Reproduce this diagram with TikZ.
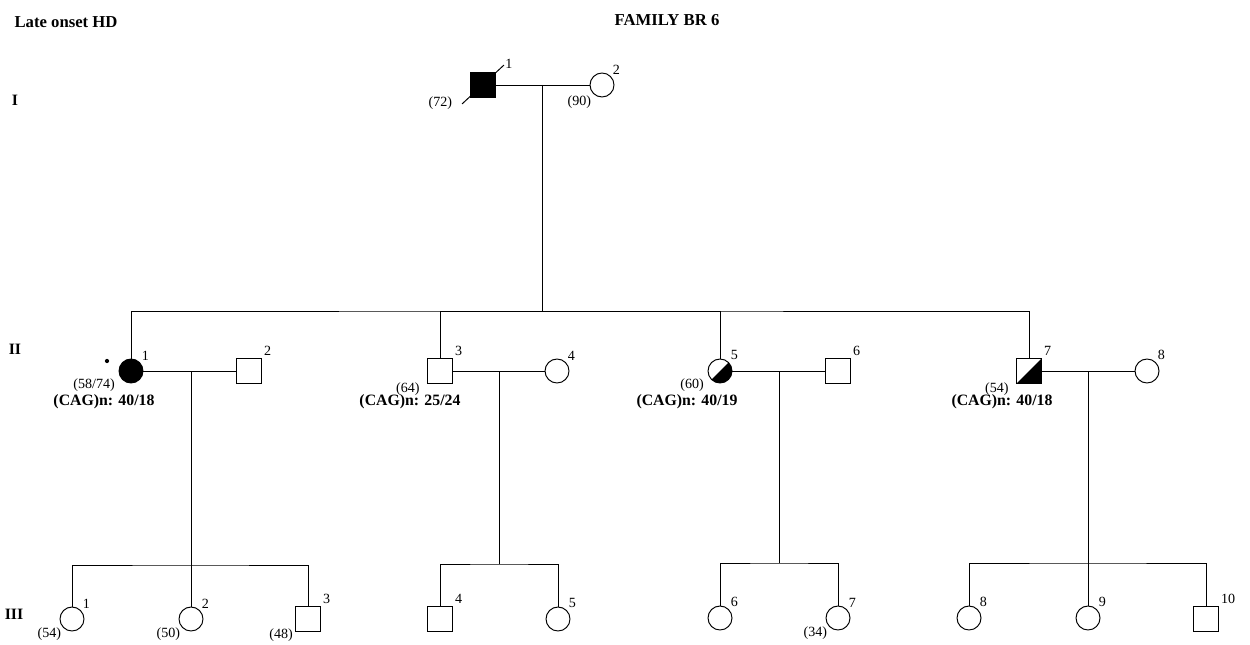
\documentclass[tikz,border=0pt]{standalone}
\usepackage{fontspec}
\setmainfont{Liberation Serif}
\usetikzlibrary{positioning, calc}
\tikzset{
  person/.style={
    draw=black, line width=0.55pt,
    inner sep=0pt, fill=white
  },
  malebox/.style={person, rectangle, minimum size=0.5cm},
  femalebox/.style={person, circle, minimum size=0.48cm},
  affected/.style={fill=black},
  halfaff/.style={
    path picture={
      \fill[black] (path picture bounding box.north east)
        -- (path picture bounding box.south east)
        -- (path picture bounding box.south west) -- cycle;
    }
  },
  numlabel/.style={font=\fontsize{8}{9}\selectfont, inner sep=1pt},
  agelabel/.style={font=\fontsize{8}{9}\selectfont, inner sep=1pt},
  agetwo/.style={agelabel, xshift=-3pt, yshift=2pt},
  caglabel/.style={font=\fontsize{9}{10}\selectfont\bfseries, inner sep=0pt},
  genlabel/.style={font=\fontsize{9}{10}\selectfont\bfseries, inner sep=0pt},
  title/.style={font=\fontsize{9.5}{11}\selectfont\bfseries, inner sep=0pt},
  link/.style={line width=0.55pt, draw=black}
}

\begin{document}
\begin{tikzpicture}[x=0.02cm, y=-0.02cm]
  \useasboundingbox (0,0) rectangle (1250,645);

  % titles and generations
  \node[title] (ttl) at (66,22) {Late onset HD};
  \node[title] (fam) at (667,20) {FAMILY BR 6};
  \node[genlabel] (gI) at (15,100) {I};
  \node[genlabel] (gII) at (15,349) {II};
  \node[genlabel] (gIII) at (14,614) {III};

  % generation I
  \node[malebox, affected, label={[numlabel, label distance=5pt]35:1},
        label={[agelabel, label distance=10pt, yshift=2pt]205:(72)}] (I1) at (483,85) {};
  \node[femalebox, label={[numlabel]45:2},
        label={[agelabel]south west:(90)}] (I2) at (602,85) {};
  \draw[link] ($(I1.south west)+(-8,6)$) -- ($(I1.north east)+(8,-7)$);

  % generation II
  \node[femalebox, affected, label={[numlabel]45:1},
        label={[agetwo]south west:(58/74)}] (II1) at (131,371) {};
  \node[malebox, label={[numlabel]45:2}] (II2) at (249,371) {};
  \node[malebox, label={[numlabel]45:3},
        label={[agetwo]south west:(64)}] (II3) at (440,371) {};
  \node[femalebox, label={[numlabel]45:4}] (II4) at (557,371) {};
  \node[femalebox, halfaff, label={[numlabel]45:5},
        label={[agetwo]south west:(60)}] (II5) at (720,371) {};
  \node[malebox, label={[numlabel]45:6}] (II6) at (838,371) {};
  \node[malebox, halfaff, label={[numlabel]45:7},
        label={[agetwo]south west:(54)}] (II7) at (1029,371) {};
  \node[femalebox, label={[numlabel]45:8}] (II8) at (1147,371) {};
  \fill ($(II1)+(-24,-10)$) circle (1.2pt);

  \node[caglabel] (cag1) at ($(II1)+(-27,31)$) {(CAG)n: 40/18};
  \node[caglabel] (cag3) at ($(II3)+(-30,31)$) {(CAG)n: 25/24};
  \node[caglabel] (cag5) at ($(II5)+(-33,31)$) {(CAG)n: 40/19};
  \node[caglabel] (cag7) at ($(II7)+(-27,31)$) {(CAG)n: 40/18};

  % generation III
  \node[femalebox, label={[numlabel]45:1},
        label={[agelabel, yshift=1.5pt]south west:(54)}] (III1) at (72,619) {};
  \node[femalebox, label={[numlabel]45:2},
        label={[agelabel, yshift=1.5pt]south west:(50)}] (III2) at (191,619) {};
  \node[malebox, label={[numlabel]45:3},
        label={[agelabel, yshift=3pt]south west:(48)}] (III3) at (308,619) {};
  \node[malebox, label={[numlabel]45:4}] (III4) at (440,619) {};
  \node[femalebox, label={[numlabel]45:5}] (III5) at (558,619) {};
  \node[femalebox, label={[numlabel]45:6}] (III6) at (720,618) {};
  \node[femalebox, label={[numlabel]45:7},
        label={[agelabel, yshift=1.5pt]south west:(34)}] (III7) at (838,618) {};
  \node[femalebox, label={[numlabel]45:8}] (III8) at (969,618) {};
  \node[femalebox, label={[numlabel]45:9}] (III9) at (1088,618) {};
  \node[malebox, label={[numlabel]45:10}] (III10) at (1206,619) {};

  % mating and sibship lines
  \coordinate (mI) at (542,85);
  \coordinate (sII) at (542,311);
  \draw[link] (I1) -- (I2);
  \draw[link] (mI) -- (sII);
  \draw[link] (II1) |- (sII) -| (II7);
  \draw[link] (II3) |- (sII);
  \draw[link] (II5) |- (sII);

  \coordinate (mII1) at (191,371);
  \coordinate (sIII1) at (191,565);
  \draw[link] (II1) -- (II2);
  \draw[link] (mII1) -- (III2);
  \draw[link] (III1) |- (sIII1) -| (III3);

  \coordinate (mII2) at (499,371);
  \coordinate (sIII2) at (499,564);
  \draw[link] (II3) -- (II4);
  \draw[link] (mII2) -- (sIII2);
  \draw[link] (III4) |- (sIII2) -| (III5);

  \coordinate (mII3) at (779,371);
  \coordinate (sIII3) at (779,563);
  \draw[link] (II5) -- (II6);
  \draw[link] (mII3) -- (sIII3);
  \draw[link] (III6) |- (sIII3) -| (III7);

  \coordinate (mII4) at (1088,371);
  \coordinate (sIII4) at (1088,563);
  \draw[link] (II7) -- (II8);
  \draw[link] (mII4) -- (III9);
  \draw[link] (III8) |- (sIII4) -| (III10);
\end{tikzpicture}
\end{document}
